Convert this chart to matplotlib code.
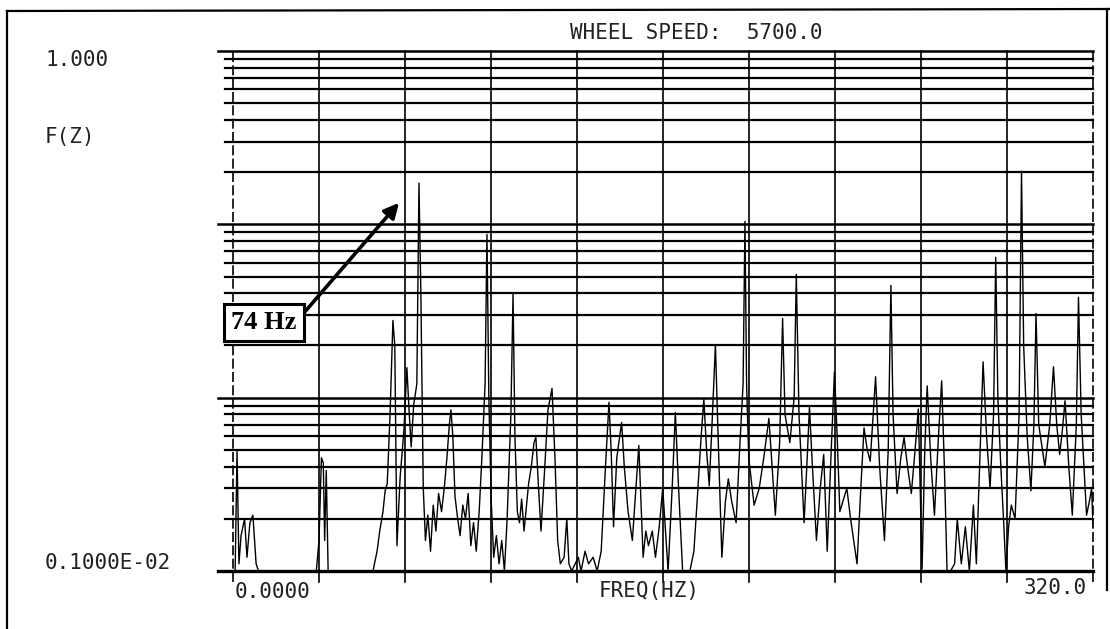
import matplotlib
matplotlib.use("Agg")
import matplotlib.pyplot as plt
import numpy as np

# spectrum (Hz, F(Z))
freq_hz = [0.0, 0.8, 1.5, 2.2, 3.0, 4.3, 5.2, 6.3, 7.4, 8.6, 9.5, 31.0, 32.0, 32.9, 33.6, 34.1, 34.7, 35.4,
           52.1, 53.6, 54.6, 55.8, 56.6, 57.4, 58.5, 59.5, 60.2, 61.0, 62.2, 63.6, 64.7, 65.5, 66.3, 67.2,
           68.4, 69.2, 69.9, 70.8, 71.6, 72.5, 73.5, 74.5, 75.5, 76.5, 77.6, 78.6, 79.6, 80.5, 81.1, 81.8,
           82.6, 83.6, 84.5, 85.5, 86.5, 87.5, 88.5, 89.5, 90.5, 91.6, 92.6, 93.8, 94.5, 95.2, 96.1, 97.0,
           98.0, 99.0, 100.0, 101.0, 102.0, 103.4, 104.2, 104.9, 105.8, 106.6, 107.4, 108.3, 109.1, 110.0,
           111.0, 112.0, 112.7, 113.7, 114.6, 115.8, 117.2, 118.7, 119.8, 120.8, 121.8, 123.2, 124.2, 125.0,
           126.0, 128.5, 129.5, 131.0, 132.3, 134.0, 135.5, 137.0, 138.6, 139.9, 140.7, 141.6, 142.8, 144.6,
           145.6, 147.0, 148.6, 151.0, 152.6, 153.6, 154.6, 156.0, 157.2, 158.6, 159.9, 161.9, 163.4, 164.6,
           165.8, 167.3, 170.0, 171.5, 173.0, 174.2, 175.2, 176.2, 177.2, 178.4, 179.5, 180.5, 181.9, 183.2,
           184.3, 185.6, 187.2, 188.5, 189.8, 190.5, 191.1, 191.9, 193.9, 195.8, 197.5, 199.4, 200.6, 201.8,
           203.4, 204.5, 205.4, 207.2, 208.8, 209.6, 210.6, 212.5, 213.5, 214.5, 215.6, 217.1, 218.5, 219.8,
           221.1, 222.6, 223.8, 224.8, 225.8, 227.2, 228.4, 229.8, 232.2, 233.6, 234.8, 236.0, 237.1, 238.2,
           239.1, 240.6, 242.4, 243.8, 244.8, 245.6, 247.1, 248.5, 249.7, 251.0, 252.4, 253.8, 255.0, 256.4,
           257.4, 258.3, 259.6, 261.0, 262.5, 263.7, 264.7, 265.7, 267.0, 268.5, 269.5, 271.0, 272.5, 274.0,
           275.5, 276.6, 278.0, 279.1, 280.4, 281.7, 283.0, 283.8, 284.6, 285.7, 286.7, 287.6, 288.6, 289.6,
           291.0, 292.5, 293.4, 294.2, 295.5, 296.9, 298.0, 298.8, 299.8, 302.1, 303.9, 305.3, 306.5, 307.6,
           308.6, 309.6, 311.0, 312.3, 313.8, 314.6, 315.6, 317.6, 318.6, 319.5, 320.0]
fz = [0.001, 0.001, 0.0049, 0.0011, 0.0016, 0.0020, 0.0012, 0.0019, 0.0021, 0.0011, 0.001, 0.001, 0.0015,
      0.0045, 0.0042, 0.0015, 0.0038, 0.001,
      0.001, 0.0013, 0.0017, 0.0022, 0.0029, 0.0032, 0.0085, 0.0279, 0.020, 0.0014, 0.0035, 0.0065, 0.0149,
      0.0085, 0.0052, 0.0090, 0.012, 0.173, 0.040, 0.0030, 0.0015, 0.0021, 0.0013, 0.0024, 0.0017, 0.0028,
      0.0022, 0.0030, 0.0045, 0.0070, 0.0085, 0.0060, 0.0027, 0.0020, 0.0016, 0.0024, 0.0020, 0.0028,
      0.0014, 0.0019, 0.0013, 0.0022, 0.0045, 0.012, 0.0875, 0.010, 0.0025, 0.0012, 0.0016, 0.0011, 0.0015,
      0.0010, 0.0020, 0.008, 0.0399, 0.006, 0.0022, 0.0019, 0.0026, 0.0017, 0.0023, 0.0032, 0.0040, 0.0055,
      0.0059, 0.0030, 0.0017, 0.0035, 0.0085, 0.0113, 0.0045, 0.0015, 0.0011, 0.0012, 0.0020, 0.0011,
      0.0010, 0.0012, 0.0010, 0.0013, 0.0011, 0.0012, 0.0010, 0.0013, 0.0040, 0.0094, 0.0050, 0.0018,
      0.0045, 0.0072, 0.0040, 0.0022, 0.0015, 0.0053, 0.0012, 0.0017, 0.0014, 0.0017, 0.0012, 0.0018,
      0.0030, 0.0010, 0.0030, 0.0082, 0.0030, 0.0010, 0.0010, 0.0013, 0.0030, 0.0060, 0.0098, 0.0050,
      0.0031, 0.0080, 0.0202, 0.0060, 0.0012, 0.0025, 0.0034, 0.0025, 0.0019, 0.0050, 0.012, 0.104, 0.012,
      0.0045, 0.0024, 0.0030, 0.0045, 0.0076, 0.0040, 0.0021, 0.0055, 0.0286, 0.008, 0.0055, 0.010, 0.0514,
      0.008, 0.0019, 0.0040, 0.0088, 0.0040, 0.0015, 0.0030, 0.0047, 0.0013, 0.0050, 0.0141, 0.0060, 0.0022,
      0.0026, 0.0030, 0.0020, 0.0011, 0.0030, 0.0067, 0.0050, 0.0043, 0.0080, 0.0132, 0.0040, 0.0015,
      0.0050, 0.0444, 0.008, 0.0028, 0.0045, 0.0059, 0.0040, 0.0028, 0.0050, 0.0086, 0.00103, 0.0050,
      0.0117, 0.0045, 0.0021, 0.0060, 0.0125, 0.0040, 0.0010, 0.0010, 0.0011, 0.0020, 0.0011, 0.0018,
      0.0010, 0.0024, 0.0011, 0.0050, 0.0161, 0.0060, 0.0030, 0.008, 0.0645, 0.010, 0.0040, 0.0020, 0.0010,
      0.0018, 0.0024, 0.0020, 0.008, 0.2024, 0.020, 0.0060, 0.0029, 0.0070, 0.0306, 0.0070, 0.0040, 0.0070,
      0.0151, 0.0070, 0.0047, 0.0065, 0.0096, 0.0040, 0.0021, 0.0070, 0.0379, 0.008, 0.0021, 0.0025,
      0.0030, 0.0018]

x_grid = np.arange(0, 321, 32)
decades = [0.001, 0.01, 0.1, 1.0]
minors = [m * d for d in [0.001, 0.01, 0.1] for m in range(2, 10)]

W, H = 1110, 629
fig = plt.figure(figsize=(W / 100, H / 100), dpi=100)
ax = fig.add_axes([233 / W, 1 - 571 / H, 860 / W, 520 / H])
ax.set_xlim(0, 320)
ax.set_yscale("log")
ax.set_ylim(0.001, 1.0)
ax.set_axis_off()

# log grid, decade lines run a bit further left like the plotter draws them
for y in minors:
    ax.axhline(y, xmin=-0.009, xmax=1.0, color="black", lw=1.6, clip_on=False)
for y in decades:
    ax.axhline(y, xmin=-0.018, xmax=1.0, color="black", lw=1.8 if y > 0.001 else 2.4, clip_on=False)
for x in x_grid:
    ls = (0, (6, 2)) if x in (0, 320) else "-"
    ax.axvline(x, ymin=-0.022, ymax=1.0, color="black", lw=1.2, ls=ls, clip_on=False)

ax.plot(freq_hz, fz, color="black", lw=1.0)

# plotter style labels
mono = dict(family="DejaVu Sans Mono", fontsize=15, color="#222222", va="center")
fig.text(45 / W, 1 - 60 / H, "1.000", ha="left", **mono)
fig.text(45 / W, 1 - 137 / H, "F(Z)", ha="left", **mono)
fig.text(45 / W, 1 - 563 / H, "0.1000E-02", ha="left", **mono)
fig.text(235 / W, 1 - 592 / H, "0.0000", ha="left", **mono)
fig.text(649 / W, 1 - 591 / H, "FREQ(HZ)", ha="center", **mono)
fig.text(1087 / W, 1 - 588 / H, "320.0", ha="right", **mono)
fig.text(696 / W, 1 - 33 / H, "WHEEL SPEED:  5700.0", ha="center", **mono)

# callout
ax.annotate("74 Hz", xy=(0.193, 0.708), xycoords="axes fraction",
            xytext=(0.036, 0.478), textcoords="axes fraction",
            ha="center", va="center", fontsize=19, fontweight="bold", family="Liberation Serif",
            bbox=dict(boxstyle="square,pad=0.28", fc="white", ec="black", lw=2.2),
            arrowprops=dict(arrowstyle="-|>", color="black", lw=2.6, mutation_scale=22,
                            shrinkA=0, shrinkB=0, relpos=(1.0, 0.55)))

# page frame
frame = dict(color="black", lw=1.6, transform=fig.transFigure)
fig.add_artist(plt.Line2D([7 / W, 7 / W], [0, 1 - 11 / H], **frame))
fig.add_artist(plt.Line2D([7 / W, 1], [1 - 11 / H, 1 - 9 / H], **frame))
fig.add_artist(plt.Line2D([1107 / W, 1107 / W], [1 - 590 / H, 1 - 9 / H], **frame))

fig.savefig("out.png", dpi=100)
